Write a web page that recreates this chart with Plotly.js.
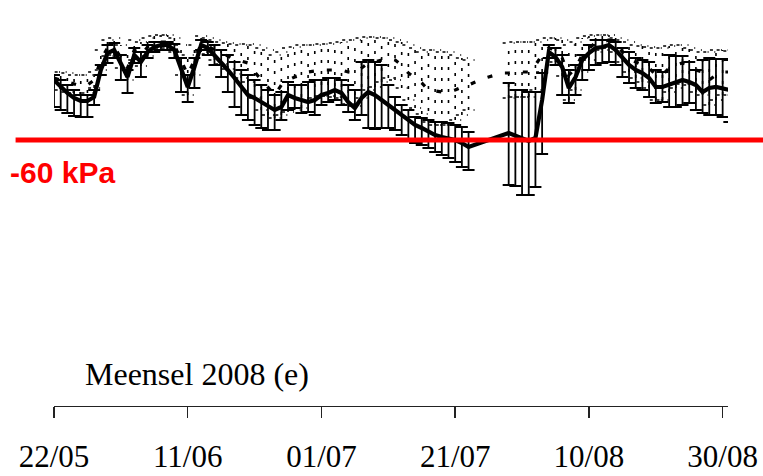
<!DOCTYPE html>
<html>
<head>
<meta charset="utf-8">
<script src="https://cdn.plot.ly/plotly-3.0.1.min.js"></script>
<style>html,body{margin:0;padding:0;background:#fff;}#chart{width:763px;height:476px;}</style>
</head>
<body>
<div id="chart"></div>
<script>
// ---- data (kPa), one value per day starting 22/05/2008 ----
const startDate = [2008, 4, 22];
const tickDates = ['2008-05-22', '2008-06-11', '2008-07-01', '2008-07-21', '2008-08-10', '2008-08-30'];
const tickLabels = ['22/05', '11/06', '01/07', '21/07', '10/08', '30/08'];
const thresholdKPa = -60;
const thresholdLabel = '-60 kPa';
const chartTitle = 'Meensel 2008 (e)';

// solid series: mean, upper and lower bound of the bars
const solidMean = [-30,-33.5,-36.5,-39,-40.5,-40.5,-38.5,-25,-16.5,-15,-22,-28.5,-17.5,-21,-16,-13.5,-12.5,-12.5,-15,-25,-33.5,-23.5,-12.5,-14,-17.5,-21,-25,-29,-33.5,-37.5,-39,-41,-43.5,-45,-43.5,-37.5,-39,-40,-41,-40,-37.5,-36.5,-35,-36.5,-41,-44,-39,-36,-37.5,-40,-42.5,-45,-47.5,-50,-52.5,-54,-56,-57.5,-58.5,-59,-60,-61.5,-63.5,null,null,null,null,null,-56.5,-58,-59.5,-60.5,-59,-40,-16,-18.5,-23.5,-34,-28.5,-20,-16.5,-14,-13.5,-12.5,-15,-19,-22.5,-25,-26.5,-29,-33.5,-33.5,-32.5,-31,-30,-31,-32.5,-36,-34,-33.5,-34,-35];
const solidHigh = [-27.5,-30,-32.5,-35,-37.5,-37.5,-35,-22.5,-12.5,-11.5,-17.5,-25,-14,-16,-12.5,-11,-11,-11,-12,-19,-27.5,-19,-10,-11,-12.5,-15,-17.5,-21,-25,-27.5,-30,-32.5,-35,-37.5,-36,-31,-32.5,-32.5,-31,-30,-30,-29,-29,-30,-32.5,-35,-21,-20,-21,-22.5,-32.5,-38.5,-42.5,-45,-48.5,-49,-50,-51,-51,-51.5,-52.5,-53.5,-56,null,null,null,null,null,-31.5,-35,-35,-36,-36,-26.5,-12.5,-14,-17.5,-25,-22.5,-17.5,-12.5,-10,-10,-10,-11,-14,-16,-19,-20,-21,-25,-26,-17.5,-18,-18,-21,-25,-20,-19,-19.5,-19.5,-20];
const solidLow = [-43.5,-45,-46.5,-48,-48.5,-48.5,-42.5,-27.5,-21.5,-19,-30,-36.5,-21.5,-28.5,-19,-16,-15,-15,-19,-36,-41,-34,-15,-17.5,-22.5,-28.5,-36,-43.5,-47.5,-50,-52.5,-54,-55,-55,-50,-45,-44,-46.5,-46,-47.5,-42.5,-41,-40,-42.5,-46,-50,-47.5,-54,-54.5,-54,-54,-55,-57.5,-60,-61.5,-62.5,-64,-66,-67.5,-69,-71,-73.5,-75,null,null,null,null,null,-82.5,-83,-87.5,-87.5,-83.5,-67,-19,-22.5,-37.5,-41.5,-37.5,-30,-25,-22.5,-21.5,-21,-22.5,-28.5,-31.5,-34,-35,-38.5,-41.5,-41,-43.5,-43.5,-42.5,-41.5,-45,-46.5,-47.5,-47.5,-48.5,-51];

// dotted series: mean, upper and lower bound of the bars
const dotMean = [-29,-30,-31,-32,-33,-32.5,-30,-20,-14,-13.5,-18.5,-24,-15,-17.5,-13.5,-11.5,-11,-11,-12.5,-20,-27.5,-20,-12,-13,-15,-16.5,-18,-19.5,-20.5,-21.5,-26,-30,-34,-37.5,-32.5,-30,-28.5,-27.5,-26,-25.5,-25,-25,-25,-25,-26,-26.5,-24,-21.5,-21,-20,-19,-20,-22.5,-26.5,-29,-31.5,-35,-35.5,-36,-36,-35,-33.5,-32.5,-31,-29.5,-28.5,-27.5,-26.5,-26.5,-26,-26,-26,-22.5,-17.5,-14,-15,-19,-27.5,-24,-17.5,-14,-11.5,-11,-10,-12.5,-16,-19,-21,-22.5,-24,-27.5,-27.5,-24,-22.5,-21.5,-22.5,-25,-26,-30,-27.5,-26,-26];
const dotHigh = [-26,-26,-26.5,-27.5,-27.5,-27.5,-26,-15,-10,-9,-12.5,-17.5,-10,-11,-9,-8,-7.5,-7.5,-9,-12.5,-17.5,-12.5,-8,-9,-10,-11,-11.5,-12,-12.5,-12,-12.5,-14,-15,-17.5,-16,-14,-13.5,-12.5,-12.5,-12.5,-12,-12,-11.5,-11,-10,-10,-9,-8.5,-8.5,-9,-9,-10,-11,-12.5,-14,-16,-15,-15,-16,-16,-17.5,-19,-20,null,null,null,null,null,-11.5,-11,-11,-11,-11,-10,-9,-9,-10,-12.5,-11,-9,-8,-7.5,-7.5,-7.5,-9,-10,-11,-12.5,-13,-13.5,-14,-14,-13,-12.5,-12.5,-14,-15,-16,-16,-15,-15,-15.5];
const dotLow = [-34,-35,-36,-36.5,-37.5,-36.5,-34,-25,-18,-17.5,-24,-30,-20,-23,-18,-15,-14,-14,-16,-27.5,-37.5,-27.5,-16,-17,-20,-22,-24.5,-27,-29,-31,-39,-45,-47.5,-49,-47.5,-46,-45,-44,-40,-39,-38,-38,-38.5,-39,-42,-43,-39,-35,-33.5,-31,-29,-30,-34,-40,-44,-47,-51,-52.5,-52.5,-52.5,-50,-47.5,-45,null,null,null,null,null,-39,-38.5,-38.5,-38.5,-35,-26,-19,-21,-28,-40,-35,-26,-20,-16,-15,-14,-16,-21,-26,-29,-31,-34,-40,-40,-36,-34,-32,-32.5,-36,-37.5,-42.5,-40,-37.5,-37.5];

// ---- build ----
const DAY = 864e5;
const t0 = Date.UTC(startDate[0], startDate[1], startDate[2]);
const xs = solidMean.map((_, i) => t0 + i * DAY);
const toMs = s => { const p = s.split('-').map(Number); return Date.UTC(p[0], p[1]-1, p[2]); };

const errPlus = solidMean.map((m, i) => m == null ? null : solidHigh[i] - m);
const errMinus = solidMean.map((m, i) => m == null ? null : m - solidLow[i]);

const segX = [], segY = [];
const capHalf = 0.9 * DAY;
dotHigh.forEach((h, i) => {
  if (h == null) return;
  const x = xs[i];
  segX.push(x, x, null); segY.push(dotLow[i], h, null);
  segX.push(x - capHalf, x + capHalf, null); segY.push(h, h, null);
  segX.push(x - capHalf, x + capHalf, null); segY.push(dotLow[i], dotLow[i], null);
});

const traces = [
  { x: segX, y: segY, type: 'scatter', mode: 'lines', hoverinfo: 'skip', showlegend: false,
    line: { color: '#000', width: 1.6, dash: '3px,8px' }, cliponaxis: false },
  { x: xs, y: dotMean, type: 'scatter', mode: 'lines', connectgaps: true, showlegend: false,
    line: { color: '#000', width: 3.2, dash: '5px,13px' }, cliponaxis: false },
  { x: xs, y: solidMean, type: 'scatter', mode: 'lines', connectgaps: true, showlegend: false,
    line: { color: '#000', width: 4.2 }, cliponaxis: false,
    error_y: { type: 'data', symmetric: false, array: errPlus, arrayminus: errMinus,
               color: '#000', thickness: 1.8, width: 6 } }
];

const layout = {
  width: 763, height: 476,
  margin: { l: 54, r: 35, t: 0, b: 70 },
  paper_bgcolor: '#fff', plot_bgcolor: '#fff',
  showlegend: false,
  title: { text: chartTitle, x: 85/763, xanchor: 'left', xref: 'container',
           y: 1 - 374/476, yanchor: 'middle', yref: 'container',
           font: { family: 'Liberation Serif, Times New Roman, serif', size: 32, color: '#000' } },
  xaxis: {
    type: 'date', range: [t0, t0 + 100.8 * DAY],
    tickmode: 'array', tickvals: tickDates.map(toMs), ticktext: tickLabels,
    ticks: 'outside', ticklen: 11, tickwidth: 1.4, tickcolor: '#222',
    showline: true, linecolor: '#222', linewidth: 1.4,
    showgrid: false, zeroline: false, ticklabelstandoff: 11,
    tickfont: { family: 'Liberation Serif, Times New Roman, serif', size: 31, color: '#000' }
  },
  yaxis: { visible: false, range: [-193, 10], showgrid: false, zeroline: false },
  shapes: [
    { type: 'line', xref: 'paper', yref: 'y', x0: -0.057, x1: 1.06, y0: thresholdKPa, y1: thresholdKPa,
      line: { color: '#ff0000', width: 5 }, layer: 'above' }
  ],
  annotations: [
    { text: '<b>' + thresholdLabel + '</b>', xref: 'paper', yref: 'y', x: (8 - 54) / 674, xanchor: 'left',
      y: -76, yanchor: 'middle', showarrow: false,
      font: { family: 'Liberation Sans, Arial, sans-serif', size: 30, color: '#ff0000' } }
  ]
};

Plotly.newPlot('chart', traces, layout, { staticPlot: true, displayModeBar: false });
</script>
</body>
</html>
